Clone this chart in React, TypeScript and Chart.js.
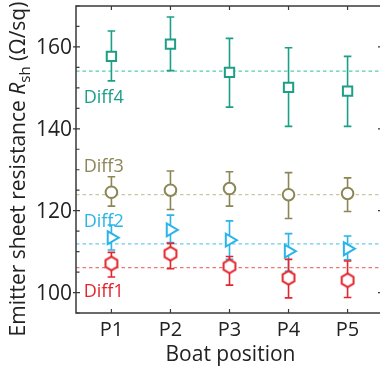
import React, { useEffect, useRef } from 'react';
import { Chart, registerables } from 'chart.js';
Chart.register(...registerables);

// ---- data ----
const categories = ['P1', 'P2', 'P3', 'P4', 'P5'];
const seriesNames = ['Diff1', 'Diff2', 'Diff3', 'Diff4'];

const diff1 = [107.1, 109.5, 106.4, 103.6, 103.0];
const diff1Hi = [109.8, 112.0, 108.8, 108.1, 107.7];
const diff1Lo = [103.8, 105.8, 101.8, 98.7, 98.8];

const diff2 = [113.4, 115.3, 112.8, 110.1, 110.7];
const diff2Hi = [116.5, 118.9, 117.5, 114.4, 113.8];
const diff2Lo = [110.4, 112.2, 108.1, 105.2, 108.0];

const diff3 = [124.5, 125.0, 125.4, 123.9, 124.2];
const diff3Hi = [128.3, 129.7, 129.5, 129.3, 128.0];
const diff3Lo = [121.1, 120.3, 121.1, 118.1, 119.8];

const diff4 = [157.7, 160.7, 153.8, 150.1, 149.2];
const diff4Hi = [163.9, 167.3, 162.1, 159.8, 157.7];
const diff4Lo = [151.7, 154.2, 145.3, 140.6, 140.6];

const seriesMeans = [106.1, 111.9, 123.9, 154.1];
const yTickLabels = [100, 120, 140, 160];
const yMinorStep = 5;
const xTitle = 'Boat position';

// annotation anchors (data coords) for series labels
const labelX = 0.53;
const labelY = [99.0, 116.0, 129.4, 146.3];

const colors = ['#e4252c', '#2ab4e8', '#8c8656', '#1c9f86'];
const dashColors = ['#ef7474', '#66cdf0', '#c9c6a0', '#55cbb0'];

const FONT = '"Open Sans", "Noto Sans", sans-serif';

function makeHexagon(color: string): HTMLCanvasElement {
  const c = document.createElement('canvas');
  c.width = 18;
  c.height = 18;
  const ctx = c.getContext('2d')!;
  ctx.beginPath();
  const r = 6.8;
  for (let k = 0; k < 6; k++) {
    const a = -Math.PI / 2 + (k * Math.PI) / 3;
    const px = 9 + r * Math.cos(a);
    const py = 9 + r * Math.sin(a);
    if (k === 0) ctx.moveTo(px, py);
    else ctx.lineTo(px, py);
  }
  ctx.closePath();
  ctx.fillStyle = '#ffffff';
  ctx.fill();
  ctx.lineWidth = 2;
  ctx.strokeStyle = color;
  ctx.stroke();
  return c;
}

const customPlugin = {
  id: 'customAxes',
  beforeDatasetDraw(chart: any, args: any) {
    const ds = chart.data.datasets[args.index];
    if (!ds.errHi) return;
    const ctx = chart.ctx;
    const xs = chart.scales.x;
    const ys = chart.scales.y;
    ctx.save();
    ctx.strokeStyle = ds.pointBorderColor;
    ctx.lineWidth = 1.6;
    const cap = 3.8;
    ds.data.forEach((pt: any, i: number) => {
      const px = xs.getPixelForValue(pt.x);
      const yh = ys.getPixelForValue(ds.errHi[i]);
      const yl = ys.getPixelForValue(ds.errLo[i]);
      ctx.beginPath();
      ctx.moveTo(px, yh);
      ctx.lineTo(px, yl);
      ctx.moveTo(px - cap, yh);
      ctx.lineTo(px + cap, yh);
      ctx.moveTo(px - cap, yl);
      ctx.lineTo(px + cap, yl);
      ctx.stroke();
    });
    ctx.restore();
  },
  afterDraw(chart: any) {
    const ctx = chart.ctx;
    const { left, right, top, bottom } = chart.chartArea;
    const xs = chart.scales.x;
    const ys = chart.scales.y;
    ctx.save();
    // frame
    ctx.strokeStyle = '#3a3a3a';
    ctx.lineWidth = 1.5;
    ctx.strokeRect(left, top, right - left, bottom - top);
    // ticks
    ctx.lineWidth = 1.2;
    ctx.beginPath();
    categories.forEach((_, i) => {
      const px = xs.getPixelForValue(i + 1);
      ctx.moveTo(px, bottom);
      ctx.lineTo(px, bottom - 4);
      ctx.moveTo(px, top);
      ctx.lineTo(px, top + 4);
    });
    for (let v = Math.ceil(ys.min / yMinorStep) * yMinorStep; v <= ys.max; v += yMinorStep) {
      const py = ys.getPixelForValue(v);
      const major = yTickLabels.includes(v);
      if (major) {
        ctx.moveTo(left - 3, py);
        ctx.lineTo(left + 4, py);
        ctx.moveTo(right, py);
        ctx.lineTo(right - 5, py);
      } else {
        ctx.moveTo(left, py);
        ctx.lineTo(left + 3.5, py);
      }
    }
    ctx.stroke();

    // tick labels
    ctx.fillStyle = '#222222';
    ctx.font = `21px ${FONT}`;
    ctx.textAlign = 'right';
    ctx.textBaseline = 'middle';
    yTickLabels.forEach((v) => {
      ctx.fillText(String(v), left - 4, ys.getPixelForValue(v) + 1);
    });
    ctx.font = `20px ${FONT}`;
    ctx.textAlign = 'center';
    categories.forEach((c, i) => {
      ctx.fillText(c, xs.getPixelForValue(i + 1), bottom + 17);
    });

    // x title
    ctx.font = `21px ${FONT}`;
    ctx.fillText(xTitle, (left + right) / 2 + 1, bottom + 42);

    // y title with italic R and subscript
    const parts = [
      { t: 'Emitter sheet resistance ', f: `21px ${FONT}`, dy: 0 },
      { t: 'R', f: `italic 21px ${FONT}`, dy: 0 },
      { t: 'sh', f: `15px ${FONT}`, dy: 5 },
      { t: ' (\u03A9/sq)', f: `21px ${FONT}`, dy: 0 },
    ];
    let total = 0;
    parts.forEach((p) => {
      ctx.font = p.f;
      total += ctx.measureText(p.t).width;
    });
    ctx.translate(25, 169);
    ctx.rotate(-Math.PI / 2);
    ctx.textAlign = 'left';
    ctx.textBaseline = 'alphabetic';
    let cx = -total / 2;
    parts.forEach((p) => {
      ctx.font = p.f;
      ctx.fillText(p.t, cx, p.dy);
      cx += ctx.measureText(p.t).width;
    });
    ctx.setTransform(1, 0, 0, 1, 0, 0);

    // series labels
    ctx.font = `18px ${FONT}`;
    ctx.textAlign = 'left';
    ctx.textBaseline = 'alphabetic';
    seriesNames.forEach((n, i) => {
      ctx.fillStyle = colors[i];
      ctx.fillText(n, xs.getPixelForValue(labelX), ys.getPixelForValue(labelY[i]));
    });
    ctx.restore();
  },
};

export default function App() {
  const ref = useRef<HTMLCanvasElement>(null);
  useEffect(() => {
    if (!ref.current) return;
    const hex = makeHexagon(colors[0]);
    const values = [diff1, diff2, diff3, diff4];
    const his = [diff1Hi, diff2Hi, diff3Hi, diff4Hi];
    const los = [diff1Lo, diff2Lo, diff3Lo, diff4Lo];
    const styles: any[] = [hex, 'triangle', 'circle', 'rect'];
    const radii = [7, 7.4, 5.8, 6.6];
    const rotations = [0, 90, 0, 0];
    const xMin = 0.4;
    const xMax = 5.6;

    const dashSets = seriesMeans.map((m, i) => ({
      type: 'line',
      data: [
        { x: xMin, y: m },
        { x: xMax, y: m },
      ],
      borderColor: dashColors[i],
      borderWidth: 1.3,
      borderDash: [3.5, 3],
      pointRadius: 0,
      showLine: true,
      order: 10,
    }));
    const markerSets = values.map((vals, s) => ({
      type: 'line',
      data: vals.map((v, i) => ({ x: i + 1, y: v })),
      errHi: his[s],
      errLo: los[s],
      showLine: false,
      pointStyle: styles[s],
      pointRadius: radii[s],
      pointRotation: rotations[s],
      pointBorderWidth: 2,
      pointBorderColor: colors[s],
      pointBackgroundColor: '#ffffff',
      borderColor: colors[s],
      order: 0,
    }));

    const chart = new Chart(ref.current, {
      type: 'line',
      data: { datasets: [...dashSets, ...markerSets] as any },
      options: {
        animation: false,
        responsive: true,
        maintainAspectRatio: false,
        devicePixelRatio: 1,
        layout: { autoPadding: false, padding: { left: 76, top: 6, right: 1, bottom: 58 } },
        scales: {
          x: { type: 'linear', min: xMin, max: xMax, display: false },
          y: { type: 'linear', min: 95, max: 170, display: false },
        },
        plugins: { legend: { display: false }, tooltip: { enabled: false } },
      },
      plugins: [customPlugin as any],
    });
    return () => chart.destroy();
  }, []);

  return (
    <div
      style={{
        position: 'fixed',
        left: 0,
        top: 0,
        width: 380,
        height: 371,
        overflow: 'hidden',
        background: '#ffffff',
      }}
    >
      <div style={{ position: 'relative', width: 384, height: 371 }}>
        <canvas ref={ref} />
      </div>
    </div>
  );
}
